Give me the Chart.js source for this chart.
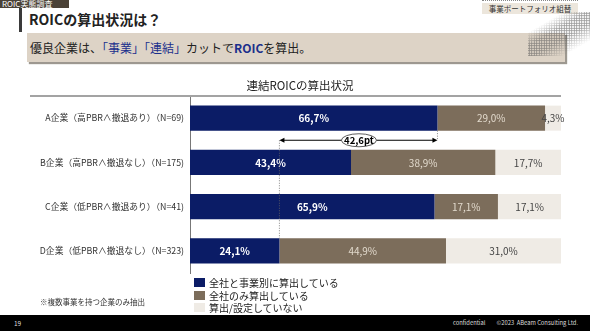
<!DOCTYPE html>
<html lang="ja">
<head>
<meta charset="utf-8">
<script src="https://cdn.jsdelivr.net/npm/chart.js@4/dist/chart.umd.min.js"></script>
<style>
  * { margin: 0; padding: 0; box-sizing: border-box; }
  body { width: 590px; height: 331px; position: relative; overflow: hidden; background: #fff;
         font-family: "Noto Sans CJK JP", "Noto Sans", sans-serif; color: #222; }
  .tag { position: absolute; left: 0; top: 0; width: 69px; height: 8px; background: #4b4237;
         color: #fff; font-size: 8px; line-height: 8px; padding-left: 2px; white-space: nowrap; overflow: hidden; }
  .vbar { position: absolute; left: 19px; top: 8px; width: 3px; height: 24px; background: #3a3a3a; }
  .title { position: absolute; left: 29px; top: 10px; font-size: 14px; font-weight: bold; line-height: 18px; }
  .banner { position: absolute; left: 27px; top: 33px; width: 538px; height: 29px; background: #ddd3c6;
            box-shadow: 2px 2px 1px #9d9890; font-size: 12px; line-height: 30px; padding-left: 3px; }
  .banner b { color: #1b2f8c; font-weight: normal; }
  .banner strong { color: #1b2f8c; }
  .chip { position: absolute; left: 482px; top: 3px; width: 96px; height: 11px; background: #ece6dc;
          font-size: 7.5px; line-height: 11px; text-align: center; color: #333; }
  .dots { position: absolute; left: 482px; top: 0px; width: 96px; height: 2px;
          border-top: 1px dotted #888; }
  .halftone { position: absolute; left: 528px; top: 12px; width: 64px; height: 44px;
              background-image: radial-gradient(circle, #555 0.9px, transparent 1.1px);
              background-size: 2.5px 2.5px; opacity: .6;
              -webkit-mask-image: linear-gradient(150deg, transparent 25%, #000 42%, #000 58%, transparent 80%);
              mask-image: linear-gradient(150deg, transparent 25%, #000 42%, #000 58%, transparent 80%); }
  .note { position: absolute; left: 40px; top: 296px; font-size: 7.5px; color: #333; }
  .legend { position: absolute; left: 194px; top: 276px; font-size: 10px; }
  .legend div { height: 12.7px; line-height: 11px; display: flex; align-items: center; }
  .legend span { display: inline-block; width: 11px; height: 9px; margin-right: 4px; }
  .footer { position: absolute; left: 0; top: 315px; width: 590px; height: 16px; background: #000;
            color: #ddd; font-size: 5.8px; line-height: 16px; }
  .footer .pg { position: absolute; left: 14px; font-size: 6.5px; }
  .footer .conf { position: absolute; left: 453px; }
  .footer .copy { position: absolute; right: 12px; }
  #chartWrap { position: absolute; left: 0; top: 0; width: 590px; height: 331px; }
</style>
</head>
<body>
<div class="tag">ROIC実態調査</div>
<div class="vbar"></div>
<div class="title">ROICの算出状況は？</div>
<div class="banner">優良企業は、<b>「事業」「連結」</b>カットで<strong>ROIC</strong>を算出。</div>
<div class="dots"></div>
<div class="chip">事業ポートフォリオ組替</div>
<div class="halftone"></div>

<div id="chartWrap"><canvas id="roicChart" width="590" height="331"></canvas></div>

<div class="note">※複数事業を持つ企業のみ抽出</div>
<div class="legend" id="legend"></div>
<div class="footer"><span class="pg">19</span><span class="conf">confidential</span><span class="copy">©2023&nbsp; ABeam Consulting Ltd.</span></div>

<script>
// 企業区分
const categories = [
  'A企業（高PBR∧撤退あり）（N=69)',
  'B企業（高PBR∧撤退なし）（N=175)',
  'C企業（低PBR∧撤退あり）（N=41)',
  'D企業（低PBR∧撤退なし）（N=323)'
];
// 算出状況ごとの割合(%)
const seriesNames = ['全社と事業別に算出している', '全社のみ算出している', '算出/設定していない'];
const bothValues = [66.7, 43.4, 65.9, 24.1];
const companyOnlyValues = [29.0, 38.9, 17.1, 44.9];
const noneValues = [4.3, 17.7, 17.1, 31.0];
const xTicks = [0, 100];

const barColors = ['#0b1c66', '#7c6d5b', '#efebe5'];
const labelColors = ['#ffffff', '#e2dacd', '#444444'];
const labelWeights = ['bold', 'normal', 'normal'];
const fontJP = '"Noto Sans CJK JP", "Noto Sans", sans-serif';

const fmt = v => v.toFixed(1).replace('.', ',') + '%';

// 凡例
document.getElementById('legend').innerHTML = seriesNames.map((n, i) =>
  `<div><span style="background:${barColors[i]}"></span>${n}</div>`).join('');

// 棒の中に数値
const valueLabels = {
  id: 'valueLabels',
  afterDatasetsDraw(chart) {
    const ctx = chart.ctx;
    ctx.save();
    ctx.textAlign = 'center';
    ctx.textBaseline = 'middle';
    chart.data.datasets.forEach((ds, di) => {
      chart.getDatasetMeta(di).data.forEach((bar, i) => {
        const cx = (bar.x + bar.base) / 2;
        ctx.font = `${labelWeights[di]} 10px ${fontJP}`;
        ctx.fillStyle = labelColors[di];
        ctx.fillText(fmt(ds.data[i]), cx, bar.y + 0.5);
      });
    });
    ctx.restore();
  }
};

// タイトル・区切り線・差分矢印
const decorations = {
  id: 'decorations',
  afterDraw(chart) {
    const ctx = chart.ctx;
    const area = chart.chartArea;
    const xs = chart.scales.x;
    ctx.save();
    ctx.font = `11.5px ${fontJP}`;
    ctx.fillStyle = '#222';
    ctx.textAlign = 'center';
    ctx.textBaseline = 'middle';
    ctx.fillText('連結ROICの算出状況', 300, 86);

    ctx.strokeStyle = '#a3a3a3';
    ctx.lineWidth = 2;
    ctx.beginPath();
    ctx.moveTo(30, area.top);
    ctx.lineTo(561, area.top);
    ctx.stroke();

    // A企業とD企業の差
    const meta = chart.getDatasetMeta(0).data;
    const hi = bothValues[0], lo = bothValues[3];
    const x1 = xs.getPixelForValue(lo), x2 = xs.getPixelForValue(hi);
    const barA = meta[0], barB = meta[1], barD = meta[3];
    const y = (barA.y + barA.height / 2 + barB.y - barB.height / 2) / 2;

    ctx.strokeStyle = '#666';
    ctx.lineWidth = 0.8;
    ctx.setLineDash([1, 1.5]);
    ctx.beginPath();
    ctx.moveTo(x1, y); ctx.lineTo(x1, barD.y - barD.height / 2);
    ctx.moveTo(x2, barA.y + barA.height / 2); ctx.lineTo(x2, y);
    ctx.stroke();
    ctx.setLineDash([]);

    ctx.strokeStyle = '#000';
    ctx.fillStyle = '#000';
    ctx.lineWidth = 1.2;
    ctx.beginPath();
    ctx.moveTo(x1 + 3, y); ctx.lineTo(x2 - 3, y);
    ctx.stroke();
    [[x1, 1], [x2, -1]].forEach(([x, d]) => {
      ctx.beginPath();
      ctx.moveTo(x, y);
      ctx.lineTo(x + 5 * d, y - 2.5);
      ctx.lineTo(x + 5 * d, y + 2.5);
      ctx.closePath();
      ctx.fill();
    });

    const cx = (x1 + x2) / 2 + 0.5;
    ctx.beginPath();
    ctx.ellipse(cx, y, 17.5, 6.5, 0, 0, Math.PI * 2);
    ctx.fillStyle = '#fff';
    ctx.fill();
    ctx.lineWidth = 0.8;
    ctx.strokeStyle = '#333';
    ctx.stroke();
    ctx.fillStyle = '#000';
    ctx.font = `bold 9.5px ${fontJP}`;
    ctx.fillText((hi - lo).toFixed(1).replace('.', ',') + 'pt', cx, y + 0.5);
    ctx.restore();
  }
};

new Chart(document.getElementById('roicChart'), {
  type: 'bar',
  data: {
    labels: categories,
    datasets: [bothValues, companyOnlyValues, noneValues].map((d, i) => ({
      label: seriesNames[i],
      data: d,
      backgroundColor: barColors[i],
      borderWidth: 0,
      barPercentage: 0.565,
      categoryPercentage: 1
    }))
  },
  options: {
    indexAxis: 'y',
    responsive: false,
    animation: false,
    layout: { padding: { left: 0, right: 29, top: 96, bottom: 58 } },
    plugins: { legend: { display: false }, tooltip: { enabled: false } },
    scales: {
      x: {
        stacked: true, display: false,
        min: xTicks[0], max: xTicks[1]
      },
      y: {
        stacked: true,
        afterFit(scale) { scale.width = 190; },
        grid: { display: false, drawTicks: false },
        border: { display: true, color: '#777', width: 1 },
        ticks: { color: '#333', padding: 6, font: { family: fontJP, size: 8.8 } }
      }
    }
  },
  plugins: [valueLabels, decorations]
});
</script>
</body>
</html>
